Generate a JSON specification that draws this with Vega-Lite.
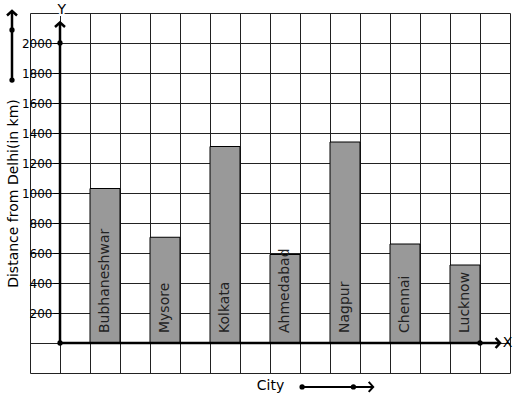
{
  "$schema": "https://vega.github.io/schema/vega-lite/v6.json",
  "width": 480,
  "height": 360,
  "autosize": {"type": "none"},
  "padding": {"left": 30, "top": 13, "right": 7, "bottom": 26},
  "config": {"font": "DejaVu Sans", "view": {"stroke": null}},
  "datasets": {
    "cities": [
      {"city": "Bubhaneshwar", "km": 1030},
      {"city": "Mysore", "km": 705},
      {"city": "Kolkata", "km": 1310},
      {"city": "Ahmedabad", "km": 590},
      {"city": "Nagpur", "km": 1340},
      {"city": "Chennai", "km": 660},
      {"city": "Lucknow", "km": 520}
    ],
    "one": [{}]
  },
  "resolve": {"scale": {"x": "independent"}, "axis": {"x": "independent", "y": "independent"}},
  "layer": [
    {
      "data": {"name": "cities"},
      "mark": {"type": "bar", "fill": "#999999", "stroke": "#000000", "strokeWidth": 1},
      "encoding": {
        "x": {
          "field": "city", "type": "nominal", "sort": null,
          "scale": {"domain": ["s0", "s1", "Bubhaneshwar", "s3", "Mysore", "s5", "Kolkata", "s7", "Ahmedabad", "s9", "Nagpur", "s11", "Chennai", "s13", "Lucknow", "s15"], "paddingInner": 0, "paddingOuter": 0},
          "axis": {"orient": "bottom", "grid": true, "tickBand": "extent", "gridColor": "#222222", "gridOpacity": 1, "gridWidth": 1, "labels": false, "ticks": false, "domain": false, "title": "City", "titleFontSize": 14, "titleFontWeight": "normal", "titleColor": "#000000", "titlePadding": 5}
        },
        "y": {
          "field": "km", "type": "quantitative",
          "scale": {"domain": [-200, 2200], "nice": false, "zero": false},
          "axis": {"orient": "left", "values": [-200, 0, 200, 400, 600, 800, 1000, 1200, 1400, 1600, 1800, 2000, 2200], "grid": true, "gridColor": "#222222", "gridOpacity": 1, "gridWidth": 1, "labels": false, "ticks": false, "domain": false, "title": "Distance from Delhi(in km)", "titleFontSize": 14, "titleFontWeight": "normal", "titleColor": "#000000", "titlePadding": 10}
        }
      }
    },
    {
      "data": {"name": "cities"},
      "mark": {"type": "text", "angle": 270, "align": "left", "baseline": "middle", "dx": 10, "fontSize": 14, "color": "#222222"},
      "encoding": {
        "x": {
          "field": "city", "type": "nominal", "sort": null,
          "scale": {"domain": ["s0", "s1", "Bubhaneshwar", "s3", "Mysore", "s5", "Kolkata", "s7", "Ahmedabad", "s9", "Nagpur", "s11", "Chennai", "s13", "Lucknow", "s15"], "paddingInner": 0, "paddingOuter": 0},
          "axis": null
        },
        "y": {
          "datum": 0, "type": "quantitative",
          "axis": {"orient": "left", "offset": -30, "values": [200, 400, 600, 800, 1000, 1200, 1400, 1600, 1800, 2000], "format": "d", "grid": false, "domain": false, "ticks": true, "tickSize": 7, "tickColor": "#000000", "tickWidth": 1, "labelPadding": 1, "labelFontSize": 12, "labelColor": "#000000", "title": null}
        },
        "text": {"field": "city"}
      }
    },
    {
      "data": {"name": "one"},
      "mark": {"type": "rule", "stroke": "#000000", "strokeWidth": 2.5},
      "encoding": {
        "x": {"datum": 1, "type": "quantitative", "scale": {"domain": [0, 16], "nice": false, "zero": false}, "axis": null},
        "y": {"datum": 0, "type": "quantitative", "axis": null},
        "y2": {"datum": 2137}
      }
    },
    {
      "data": {"name": "one"},
      "mark": {"type": "rule", "stroke": "#000000", "strokeWidth": 2.5},
      "encoding": {
        "x": {"datum": 1, "type": "quantitative", "scale": {"domain": [0, 16], "nice": false, "zero": false}, "axis": null},
        "x2": {"datum": 15.67},
        "y": {"datum": 0, "type": "quantitative", "axis": null}
      }
    },
    {
      "data": {"name": "one"},
      "mark": {"type": "rule", "stroke": "#000000", "strokeWidth": 2.5},
      "encoding": {
        "x": {"datum": -0.6, "type": "quantitative", "scale": {"domain": [0, 16], "nice": false, "zero": false}, "axis": null},
        "y": {"datum": 1753, "type": "quantitative", "axis": null},
        "y2": {"datum": 2213}
      }
    },
    {
      "data": {"name": "one"},
      "mark": {"type": "rule", "stroke": "#000000", "strokeWidth": 2},
      "encoding": {
        "x": {"datum": 9.07, "type": "quantitative", "scale": {"domain": [0, 16], "nice": false, "zero": false}, "axis": null},
        "x2": {"datum": 11.44},
        "y": {"datum": -293, "type": "quantitative", "axis": null}
      }
    },
    {
      "data": {"name": "one"},
      "mark": {"type": "point", "shape": "M-1,0.9L0,0L1,0.9", "filled": false, "stroke": "#000000", "strokeWidth": 2.5, "size": 100, "opacity": 1},
      "encoding": {
        "x": {"datum": 1, "type": "quantitative", "scale": {"domain": [0, 16], "nice": false, "zero": false}, "axis": null},
        "y": {"datum": 2137, "type": "quantitative", "axis": null}
      }
    },
    {
      "data": {"name": "one"},
      "mark": {"type": "point", "shape": "M-1,0.9L0,0L1,0.9", "filled": false, "stroke": "#000000", "strokeWidth": 2.5, "size": 100, "opacity": 1},
      "encoding": {
        "x": {"datum": -0.6, "type": "quantitative", "scale": {"domain": [0, 16], "nice": false, "zero": false}, "axis": null},
        "y": {"datum": 2213, "type": "quantitative", "axis": null}
      }
    },
    {
      "data": {"name": "one"},
      "mark": {"type": "point", "shape": "M-0.9,-1L0,0L-0.9,1", "filled": false, "stroke": "#000000", "strokeWidth": 2.5, "size": 100, "opacity": 1},
      "encoding": {
        "x": {"datum": 15.67, "type": "quantitative", "scale": {"domain": [0, 16], "nice": false, "zero": false}, "axis": null},
        "y": {"datum": 0, "type": "quantitative", "axis": null}
      }
    },
    {
      "data": {"name": "one"},
      "mark": {"type": "point", "shape": "M-0.9,-1L0,0L-0.9,1", "filled": false, "stroke": "#000000", "strokeWidth": 2, "size": 100, "opacity": 1},
      "encoding": {
        "x": {"datum": 11.44, "type": "quantitative", "scale": {"domain": [0, 16], "nice": false, "zero": false}, "axis": null},
        "y": {"datum": -293, "type": "quantitative", "axis": null}
      }
    },
    {
      "data": {"name": "one"},
      "mark": {"type": "point", "shape": "circle", "filled": true, "color": "#000000", "size": 28, "opacity": 1},
      "encoding": {
        "x": {"datum": 1, "type": "quantitative", "scale": {"domain": [0, 16], "nice": false, "zero": false}, "axis": null},
        "y": {"datum": 0, "type": "quantitative", "axis": null}
      }
    },
    {
      "data": {"name": "one"},
      "mark": {"type": "point", "shape": "circle", "filled": true, "color": "#000000", "size": 28, "opacity": 1},
      "encoding": {
        "x": {"datum": 1, "type": "quantitative", "scale": {"domain": [0, 16], "nice": false, "zero": false}, "axis": null},
        "y": {"datum": 2000, "type": "quantitative", "axis": null}
      }
    },
    {
      "data": {"name": "one"},
      "mark": {"type": "point", "shape": "circle", "filled": true, "color": "#000000", "size": 28, "opacity": 1},
      "encoding": {
        "x": {"datum": 15, "type": "quantitative", "scale": {"domain": [0, 16], "nice": false, "zero": false}, "axis": null},
        "y": {"datum": 0, "type": "quantitative", "axis": null}
      }
    },
    {
      "data": {"name": "one"},
      "mark": {"type": "point", "shape": "circle", "filled": true, "color": "#000000", "size": 28, "opacity": 1},
      "encoding": {
        "x": {"datum": -0.6, "type": "quantitative", "scale": {"domain": [0, 16], "nice": false, "zero": false}, "axis": null},
        "y": {"datum": 1753, "type": "quantitative", "axis": null}
      }
    },
    {
      "data": {"name": "one"},
      "mark": {"type": "point", "shape": "circle", "filled": true, "color": "#000000", "size": 28, "opacity": 1},
      "encoding": {
        "x": {"datum": -0.6, "type": "quantitative", "scale": {"domain": [0, 16], "nice": false, "zero": false}, "axis": null},
        "y": {"datum": 2087, "type": "quantitative", "axis": null}
      }
    },
    {
      "data": {"name": "one"},
      "mark": {"type": "point", "shape": "circle", "filled": true, "color": "#000000", "size": 28, "opacity": 1},
      "encoding": {
        "x": {"datum": 9.07, "type": "quantitative", "scale": {"domain": [0, 16], "nice": false, "zero": false}, "axis": null},
        "y": {"datum": -293, "type": "quantitative", "axis": null}
      }
    },
    {
      "data": {"name": "one"},
      "mark": {"type": "point", "shape": "circle", "filled": true, "color": "#000000", "size": 28, "opacity": 1},
      "encoding": {
        "x": {"datum": 10.78, "type": "quantitative", "scale": {"domain": [0, 16], "nice": false, "zero": false}, "axis": null},
        "y": {"datum": -293, "type": "quantitative", "axis": null}
      }
    },
    {
      "data": {"name": "one"},
      "mark": {"type": "text", "text": "X", "fontSize": 14, "align": "center", "baseline": "middle", "color": "#000000"},
      "encoding": {
        "x": {"datum": 15.92, "type": "quantitative", "scale": {"domain": [0, 16], "nice": false, "zero": false}, "axis": null},
        "y": {"datum": 0, "type": "quantitative", "axis": null}
      }
    },
    {
      "data": {"name": "one"},
      "mark": {"type": "text", "text": "Y", "fontSize": 14, "align": "center", "baseline": "middle", "color": "#000000", "stroke": "#ffffff", "strokeWidth": 4},
      "encoding": {
        "x": {"datum": 1.06, "type": "quantitative", "scale": {"domain": [0, 16], "nice": false, "zero": false}, "axis": null},
        "y": {"datum": 2220, "type": "quantitative", "axis": null}
      }
    },
    {
      "data": {"name": "one"},
      "mark": {"type": "text", "text": "Y", "fontSize": 14, "align": "center", "baseline": "middle", "color": "#000000"},
      "encoding": {
        "x": {"datum": 1.06, "type": "quantitative", "scale": {"domain": [0, 16], "nice": false, "zero": false}, "axis": null},
        "y": {"datum": 2220, "type": "quantitative", "axis": null}
      }
    }
  ]
}
